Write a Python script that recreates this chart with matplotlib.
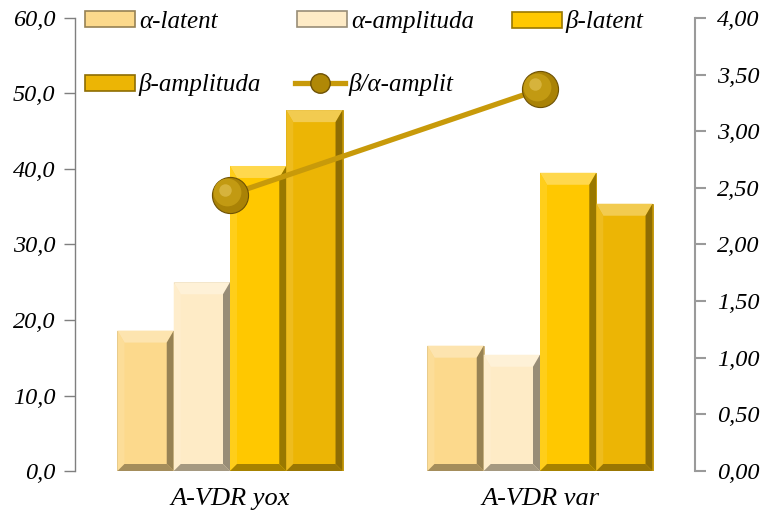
import numpy as np
import matplotlib
matplotlib.use("Agg")
import matplotlib.pyplot as plt
from matplotlib.patches import Polygon, Rectangle
from matplotlib.lines import Line2D
from matplotlib.legend import Legend
from matplotlib.ticker import FuncFormatter, MultipleLocator
import matplotlib.transforms as mtransforms

categories = ["A-VDR yox", "A-VDR var"]
series_names = ["α-latent", "α-amplituda", "β-latent", "β-amplituda"]
alpha_latent = [18.6, 16.6]
alpha_amplituda = [25.0, 15.4]
beta_latent = [40.4, 39.5]
beta_amplituda = [47.8, 35.4]
ratio_name = "β/α-amplit"
ratio_values = [2.44, 3.37]

colors = ["#FCD98C", "#FEEBC6", "#FFC800", "#ECB505"]
line_color = "#C89A0A"

plt.rcParams['font.family'] = ['Liberation Serif', 'DejaVu Serif']
plt.rcParams['font.style'] = 'italic'
FS_LEG = 18
FS_TICK = 17.5
FS_X = 19

fig = plt.figure(figsize=(7.68, 5.18), dpi=100)
ax = fig.add_axes([75/768, 1-471/518, 620/768, 453/518])
ax2 = ax.twinx()

ax.set_xlim(-0.5, 1.5)
ax.set_ylim(0, 60)
ax2.set_ylim(0, 4)

x = np.arange(len(categories))
w = 0.1815
all_series = [alpha_latent, alpha_amplituda, beta_latent, beta_amplituda]


def mix(c, t, amt):
    c = np.array(matplotlib.colors.to_rgb(c))
    t = np.array(matplotlib.colors.to_rgb(t))
    return tuple(c * (1 - amt) + t * amt)


bars_all = []
for i, (vals, col) in enumerate(zip(all_series, colors)):
    bars = ax.bar(x + (i - 1.5) * w, vals, width=w, color=col,
                  edgecolor=mix(col, "black", 0.2), linewidth=0.6, zorder=2)
    bars_all.append((bars, col))

# bevel effect on bars (derived from bar geometry)
fig.canvas.draw()
bt, bs = 12, 7  # bevel top, sides (pixels)
for bars, col in bars_all:
    for b in bars:
        x0, y0 = b.get_x(), 0
        x1, y1 = b.get_x() + b.get_width(), b.get_height()
        (X0, Y0) = ax.transData.transform((x0, y0))
        (X1, Y1) = ax.transData.transform((x1, y1))
        polys = [
            ([(X0, Y1), (X1, Y1), (X1 - bs, Y1 - bt), (X0 + bs, Y1 - bt)], mix(col, "white", 0.3)),
            ([(X0, Y0), (X0, Y1), (X0 + bs, Y1 - bt), (X0 + bs, Y0 + bs)], mix(col, "white", 0.1)),
            ([(X1, Y0), (X1, Y1), (X1 - bs, Y1 - bt), (X1 - bs, Y0 + bs)], mix(col, "black", 0.4)),
            ([(X0, Y0), (X1, Y0), (X1 - bs, Y0 + bs), (X0 + bs, Y0 + bs)], mix(col, "black", 0.35)),
        ]
        for pts, c in polys:
            p = Polygon(pts, closed=True, transform=None, facecolor=c,
                        edgecolor='none', zorder=3)
            ax.add_artist(p)

# line on secondary axis
ax2.plot(x, ratio_values, color=line_color, lw=3.8, zorder=4, solid_capstyle='butt')
ax2.plot(x, ratio_values, ls='none', marker='o', ms=26, mfc="#A98206",
         mec="#6E5205", mew=0.8, zorder=5)
off = mtransforms.ScaledTranslation(-2/72, 2/72, fig.dpi_scale_trans)
ax2.plot(x, ratio_values, ls='none', marker='o', ms=20, mfc="#C29A12",
         mec='none', zorder=6, transform=ax2.transData + off)
off2 = mtransforms.ScaledTranslation(-3.5/72, 3.5/72, fig.dpi_scale_trans)
ax2.plot(x, ratio_values, ls='none', marker='o', ms=9, mfc="#D6B33C",
         mec='none', zorder=7, transform=ax2.transData + off2)

# axes style
for a in (ax, ax2):
    a.spines['top'].set_visible(False)
    a.spines['bottom'].set_visible(False)
    a.patch.set_visible(False)
ax.spines['right'].set_visible(False)
ax2.spines['left'].set_visible(False)
ax.spines['left'].set_color('#7F7F7F')
ax2.spines['right'].set_color('#9A9A9A')
ax.spines['left'].set_linewidth(1.0)
ax2.spines['right'].set_linewidth(1.5)

ax.yaxis.set_major_locator(MultipleLocator(10))
ax2.yaxis.set_major_locator(MultipleLocator(0.5))
ax.yaxis.set_major_formatter(FuncFormatter(lambda v, p: f"{v:.1f}".replace('.', ',')))
ax2.yaxis.set_major_formatter(FuncFormatter(lambda v, p: f"{v:.2f}".replace('.', ',')))
ax.tick_params(axis='y', direction='out', length=8, width=1, color='#7F7F7F',
               labelsize=FS_TICK, pad=6)
ax2.tick_params(axis='y', direction='out', length=8, width=1.5, color='#9A9A9A',
                labelsize=FS_TICK, pad=8)
ax.set_xticks(x)
ax.set_xticklabels(categories, fontsize=FS_X)
ax.tick_params(axis='x', length=0, pad=12)

# legend entries placed individually (Excel-style layout)
hl = [Rectangle((0, 0), 1, 1, facecolor=c, edgecolor=mix(c, "black", 0.4), lw=1.2)
      for c in colors]
hline = Line2D([], [], color=line_color, lw=3.8, marker='o', ms=14,
               mfc="#B08806", mec="#6E5205")
handles = hl + [hline]
labels = series_names + [ratio_name]
pos_px = [(85, 22), (297, 22), (512, 22), (85, 85), (295, 85)]
for h, lab, (px, py) in zip(handles, labels, pos_px):
    lg = Legend(ax2, [h], [lab], loc='center left',
                bbox_to_anchor=((px - 75) / 620, (471 - py) / 453),
                frameon=False, fontsize=FS_LEG, handlelength=2.0,
                handleheight=0.6, handletextpad=0.15,
                borderaxespad=0, borderpad=0)
    lg.set_zorder(10)
    ax2.add_artist(lg)

fig.savefig("out.png", dpi=100)
